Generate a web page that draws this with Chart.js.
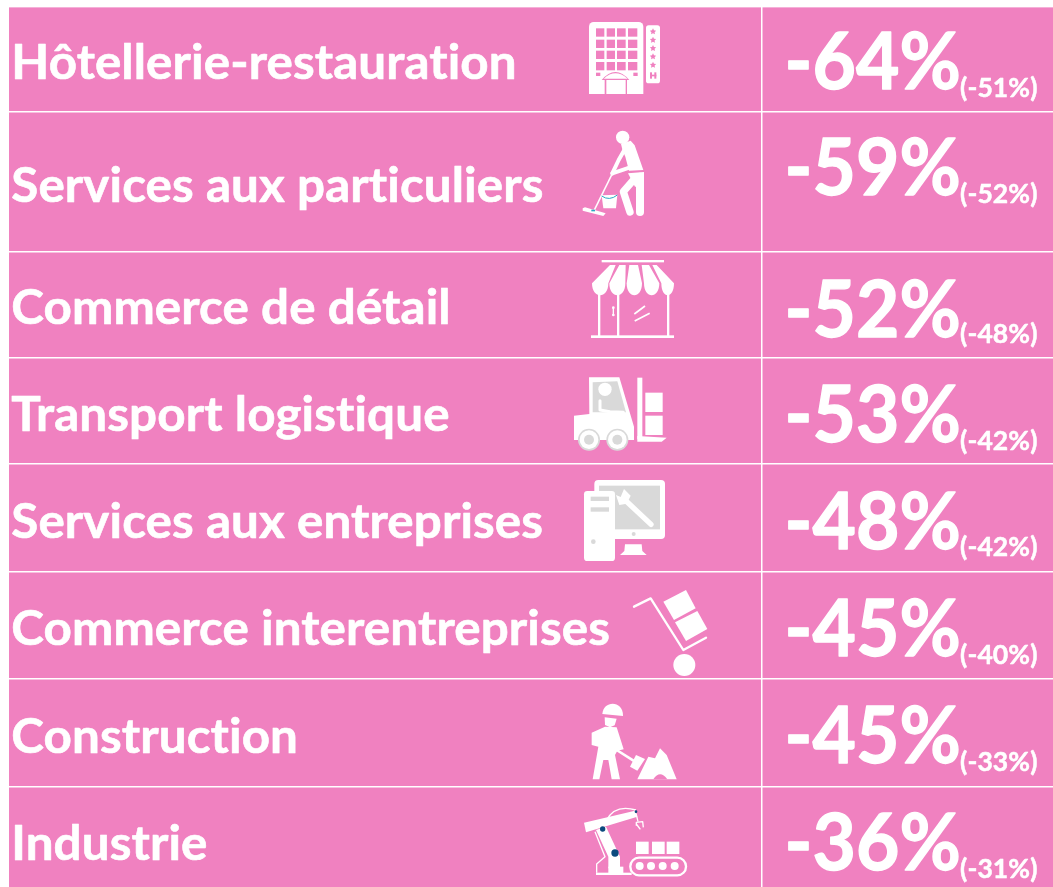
<!DOCTYPE html>
<html><head><meta charset="utf-8">
<style>html,body{margin:0;padding:0;background:#fff;overflow:hidden}#wrap{width:1053px;height:887px}</style>
<script src="https://cdn.jsdelivr.net/npm/chart.js@4/dist/chart.umd.min.js"></script>
</head><body><div id="wrap"><canvas id="c" width="1053" height="887"></canvas></div>
<script>
const categories=["Hôtellerie-restauration","Services aux particuliers","Commerce de détail","Transport logistique","Services aux entreprises","Commerce interentreprises","Construction","Industrie"];
const currentValues=[-64,-59,-52,-53,-48,-45,-45,-36];
const previousValues=[-51,-52,-48,-42,-42,-40,-33,-31];

// table layout (not data)
const PINK='#F081C0',WHITE='#FFFFFF',GRAY='#D9D9D9',NAVY='#0B4A7E',TEAL='#2AA9C4';
const rowEdges=[0,105,245,351,457,565,672,780,880];
const colEdge=753;
const labelBase=[72,195,317,424,531,638,746,853];
const valueBase=[82,188,330,435,542,649,756,863];
const smallBase=[90,196,336,443,549,657,764,871];

function iconDraw(ctx){
  const fill=(c)=>{ctx.fillStyle=c;ctx.fill();};
  const poly=(p,c)=>{ctx.beginPath();p.forEach((q,i)=>i?ctx.lineTo(q[0],q[1]):ctx.moveTo(q[0],q[1]));ctx.closePath();fill(c);};
  const rect=(x,y,w,h,c)=>{ctx.fillStyle=c;ctx.fillRect(x,y,w,h);};
  const rr=(x,y,w,h,r,c)=>{ctx.beginPath();ctx.roundRect(x,y,w,h,r);fill(c);};
  const circ=(x,y,r,c)=>{ctx.beginPath();ctx.arc(x,y,r,0,Math.PI*2);fill(c);};
  const line=(p,w,c,cap)=>{ctx.beginPath();p.forEach((q,i)=>i?ctx.lineTo(q[0],q[1]):ctx.moveTo(q[0],q[1]));ctx.lineWidth=w;ctx.strokeStyle=c;ctx.lineCap=cap||'butt';ctx.lineJoin='round';ctx.stroke();};
  const at=(ox,oy,fn)=>{ctx.save();ctx.translate(ox,oy);ctx.scale(1/3,1/3);fn();ctx.restore();};
  const star=(x,y,r,c)=>{const p=[];for(let i=0;i<10;i++){const a=-Math.PI/2+i*Math.PI/5,q=i%2?r*0.5:r;p.push([x+q*Math.cos(a),y+q*Math.sin(a)]);}poly(p,c);};

  // hotel
  at(560,0,()=>{
    ctx.beginPath();ctx.roundRect(87,66,163,216,[14,14,0,0]);fill(WHITE);
    [108,140,171,204].forEach((x,i)=>[85,119,152,186].forEach(y=>rect(x,y,[25,25,26,28][i],25,PINK)));
    rect(108,218,13,10,PINK);rect(220,218,13,10,PINK);
    ctx.beginPath();ctx.moveTo(125,240);ctx.quadraticCurveTo(166,192,208,240);ctx.closePath();fill(PINK);
    ctx.beginPath();ctx.moveTo(131,236);ctx.quadraticCurveTo(166,204,203,236);ctx.closePath();fill(WHITE);
    rect(134,239,67,43,PINK);rect(139,240,58,42,WHITE);
    rr(258,76,42,174,8,WHITE);
    [95,120,145,170,195].forEach(y=>star(279,y,10,PINK));
    rect(270,217,6,19,PINK);rect(283,217,6,19,PINK);rect(270,224,19,5,PINK);
  });
  // mop man
  at(560,0,()=>{
    circ(188,412,20,WHITE);
    poly([[183,432],[212,422],[224,436],[250,510],[207,512],[196,470],[188,452]],WHITE);
    line([[196,445],[176,480],[157,520]],12,WHITE,'round');
    line([[157,520],[208,503]],12,WHITE,'round');
    line([[186,462],[103,630]],5,WHITE);
    poly([[68,625],[75,622],[137,640],[130,648],[68,632]],WHITE);
    rect(94,629,11,5,TEAL);
    poly([[125,586],[172,584],[168,625],[130,625]],WHITE);
    ctx.beginPath();ctx.moveTo(125,588);ctx.quadraticCurveTo(148,604,172,585);ctx.lineWidth=3;ctx.strokeStyle=TEAL;ctx.stroke();
    line([[240,530],[240,636]],24,WHITE,'round');
    line([[222,538],[190,575],[210,636]],22,WHITE,'round');
    poly([[204,520],[252,516],[252,560],[225,560]],WHITE);
  });
  // store
  at(560,250,()=>{
    rect(125,30,187,7,WHITE);
    const st=[[150,167,96,145],[178,197,148,196],[208,234,200,246],[245,267,252,298],[277,290,304,342]];
    st.forEach(s=>{ctx.beginPath();ctx.moveTo(s[0],45);ctx.lineTo(s[1],45);ctx.lineTo(s[3],100);
      ctx.bezierCurveTo(s[3],148,s[2],148,s[2],100);ctx.closePath();fill(WHITE);});
    rect(114,132,7,127,WHITE);rect(171,132,7,127,WHITE);rect(321,132,7,127,WHITE);
    rect(93,256,249,8,WHITE);
    line([[160,172],[160,195]],4,WHITE);circ(160,173,4,WHITE);circ(160,195,4,WHITE);
    line([[223,192],[255,168]],5,WHITE);line([[224,213],[269,190]],5,WHITE);
  });
  // forklift
  at(560,250,()=>{
    poly([[87,382],[178,382],[222,530],[222,570],[42,570],[42,497],[88,492]],WHITE);
    poly([[98,397],[172,394],[198,487],[98,487]],GRAY);
    circ(135,418,20,WHITE);
    line([[120,452],[120,480],[150,485],[190,487]],9,WHITE,'round');
    [87,172].forEach(x=>{circ(x,569,33,GRAY);circ(x,569,28,WHITE);circ(x,569,15,GRAY);});
    rect(232,383,15,185,WHITE);
    poly([[232,558],[320,563],[305,575],[232,575]],WHITE);
    rect(256,428,52,58,WHITE);rect(256,497,52,58,WHITE);
  });
  // computer
  at(560,465,()=>{
    rr(103,45,212,177,12,WHITE);
    rect(117,62,183,131,GRAY);
    circ(221,207,6,GRAY);
    poly([[195,238],[245,238],[247,258],[260,270],[180,270],[193,258]],WHITE);
    rr(72,78,93,210,10,WHITE);
    rect(92,95,55,13,GRAY);rect(92,127,55,13,GRAY);circ(100,230,7,GRAY);
    line([[195,105],[273,178]],16,WHITE,'round');
    poly([[168,90],[182,96],[192,72],[212,92],[200,116],[178,120]],WHITE);
  });
  // hand truck
  at(560,465,()=>{
    line([[222,425],[272,400],[370,555],[438,518]],7,WHITE,'round');
    poly([[310,410],[378,375],[407,430],[342,465]],WHITE);
    poly([[345,472],[412,438],[442,492],[378,528]],WHITE);
    circ(373,600,33,WHITE);
  });
  // worker
  at(560,680,()=>{
    ctx.beginPath();ctx.moveTo(127,102);ctx.bezierCurveTo(130,60,190,60,189,108);ctx.closePath();fill(WHITE);
    poly([[134,112],[170,116],[164,136],[150,142],[135,135]],WHITE);
    poly([[95,158],[135,140],[170,142],[191,208],[172,212],[165,225],[180,298],[155,298],[145,240],[130,240],[118,298],[98,298],[115,200],[95,195]],WHITE);
    line([[170,210],[225,245]],8,WHITE);
    poly([[228,225],[255,237],[232,272],[210,260]],WHITE);
    poly([[232,298],[265,230],[285,235],[300,205],[320,225],[350,298]],WHITE);
    ctx.beginPath();ctx.moveTo(280,298);ctx.quadraticCurveTo(300,268,322,298);ctx.closePath();fill(PINK);
  });
  // robot
  at(560,680,()=>{
    poly([[72,428],[225,392],[232,410],[78,457]],WHITE);
    ctx.beginPath();ctx.moveTo(140,420);ctx.quadraticCurveTo(165,372,228,390);ctx.lineWidth=4;ctx.strokeStyle=WHITE;ctx.stroke();
    poly([[108,450],[138,440],[180,530],[180,565],[145,565],[145,530]],WHITE);
    rect(108,578,107,7,WHITE);rect(145,560,45,20,WHITE);
    line([[105,455],[135,530],[110,552],[110,578]],4,WHITE);
    circ(128,447,8,NAVY);circ(165,519,11,NAVY);circ(228,395,4,NAVY);
    line([[228,400],[234,425]],4,WHITE);
    line([[229,437],[229,427],[248,425],[250,442]],4,WHITE);line([[229,432],[241,448]],4,WHITE);
    rect(228,485,38,37,WHITE);rect(276,485,38,37,WHITE);rect(320,485,38,37,WHITE);
    ctx.beginPath();ctx.roundRect(211,533,167,53,26);ctx.lineWidth=7;ctx.strokeStyle=WHITE;ctx.stroke();
    [239,273,308,344].forEach(x=>circ(x,558,12,WHITE));
  });
}

const tablePlugin={
  id:'table',
  beforeDraw(chart){
    const a=chart.chartArea,ctx=chart.ctx;
    ctx.save();ctx.fillStyle=PINK;ctx.fillRect(a.left,a.top,a.width,a.height);
    ctx.fillStyle='#F5B0D8';ctx.fillRect(a.left,a.top,a.width,1);ctx.restore();
  },
  afterDatasetsDraw(chart){
    const ctx=chart.ctx,xs=chart.scales.x,ys=chart.scales.y;
    ctx.save();
    ctx.fillStyle=WHITE;ctx.strokeStyle=WHITE;ctx.lineJoin='round';ctx.textBaseline='alphabetic';ctx.textAlign='left';
    const put=(t,x,y,font,sx,sw,ls)=>{ctx.save();ctx.font=font;ctx.letterSpacing=ls+'px';ctx.translate(x,y);ctx.scale(sx,1);ctx.lineWidth=sw;ctx.fillText(t,0,0);ctx.strokeText(t,0,0);ctx.restore();};
    categories.forEach((c,i)=>{
      put(c,xs.getPixelForValue(2.3),ys.getPixelForValue(labelBase[i]),'bold 47px Lato',1.05,0.6,0.1);
    });
    chart.getDatasetMeta(0).data.forEach((p,i)=>{
      put(currentValues[i]+'%',p.x,ys.getPixelForValue(valueBase[i]),'bold 78px Lato',0.96,1.3,0.1);
    });
    chart.getDatasetMeta(1).data.forEach((p,i)=>{
      put('('+previousValues[i]+'%)',p.x,ys.getPixelForValue(smallBase[i]),'bold 26px Lato',1.02,0.5,0.1);
    });
    iconDraw(ctx);
    ctx.restore();
  }
};

new Chart(document.getElementById('c'),{
  type:'scatter',
  data:{datasets:[
    {label:'Variation',data:currentValues.map((v,i)=>({x:775.5,y:(rowEdges[i]+rowEdges[i+1])/2})),pointRadius:0},
    {label:'Précédent',data:previousValues.map((v,i)=>({x:951,y:(rowEdges[i]+rowEdges[i+1])/2})),pointRadius:0}
  ]},
  options:{
    responsive:false,animation:false,
    layout:{padding:{left:9,top:7,right:0,bottom:0}},
    plugins:{legend:{display:false},tooltip:{enabled:false},title:{display:false}},
    scales:{
      x:{type:'linear',min:0,max:1044,display:true,border:{display:false},
        grid:{color:WHITE,lineWidth:1.5,drawTicks:false},
        ticks:{display:false},
        afterBuildTicks(s){s.ticks=[{value:colEdge}];}},
      y:{type:'linear',reverse:true,min:0,max:880,display:true,border:{display:false},
        grid:{color:WHITE,lineWidth:1.5,drawTicks:false},
        ticks:{display:false},
        afterBuildTicks(s){s.ticks=rowEdges.slice(1,-1).map(v=>({value:v}));}}
    }
  },
  plugins:[tablePlugin]
});
</script></body></html>
